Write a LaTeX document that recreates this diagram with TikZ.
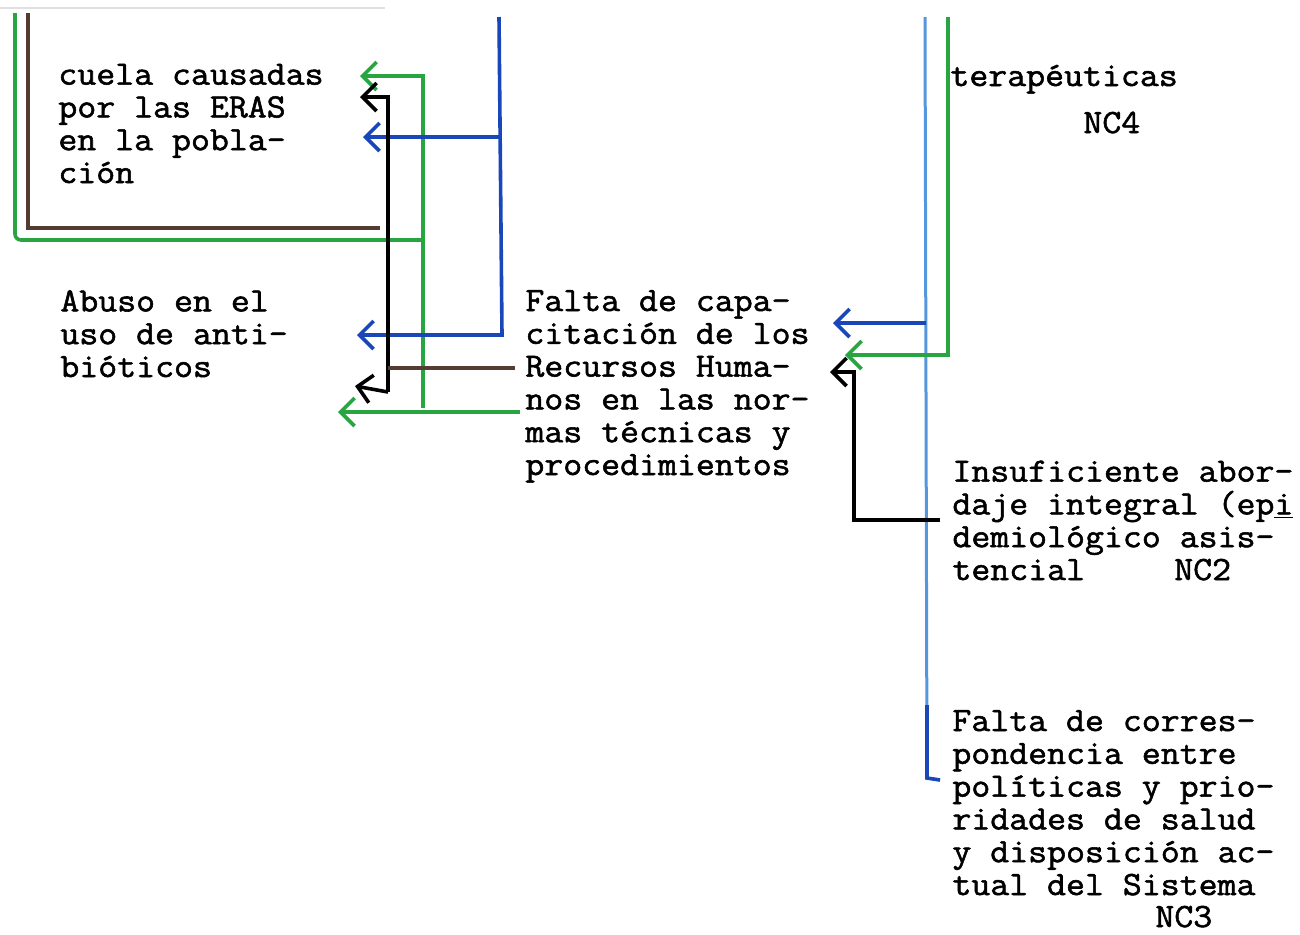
\documentclass[tikz,border=0pt]{standalone}
\usepackage{fontspec}
\newfontfamily\tw{Latin Modern Mono}[FakeBold=1.6, FakeStretch=1.082]
\usetikzlibrary{arrows.meta}
\definecolor{cgreen}{RGB}{40,165,65}
\definecolor{cblue}{RGB}{25,70,185}
\definecolor{clblue}{RGB}{85,150,220}
\definecolor{cbrown}{RGB}{85,60,50}
\tikzset{
  txt/.style={font=\fontsize{17}{16.4}\selectfont\tw, anchor=base west, align=left, inner sep=0pt},
  gline/.style={draw=cgreen, line width=1.8pt},
  bline/.style={draw=cblue, line width=1.8pt},
  lline/.style={draw=clblue, line width=1.5pt},
  kline/.style={draw=black, line width=1.8pt},
  rline/.style={draw=cbrown, line width=1.8pt},
  tohead/.style={-{Straight Barb[length=7pt,width=14pt]}}
}
\begin{document}
\begin{tikzpicture}[x=0.5pt,y=-0.5pt]
\useasboundingbox (0,0) rectangle (1300,934);
% texts (anchored at the baseline of their last line)
\node[txt] (cuela) at (58,183) {cuela causadas\\por las ERAS\\en la pobla-\\ción};
\node[txt] (abuso) at (60,377) {Abuso en el\\uso de anti-\\bióticos};
\node[txt] (falta) at (525,475) {Falta de capa-\\citación de los\\Recursos Huma-\\nos en las nor-\\mas técnicas y\\procedimientos};
\node[txt] (tera) at (950,86) {terapéuticas};
\node[txt] (nc4) at (1083,133) {NC4};
\node[txt] (insu) at (952,580) {Insuficiente abor-\\daje integral (ep\underline{i}\\demiológico asis-\\tencial\hspace{2.625em}NC2};
\node[txt] (corr) at (952,895) {Falta de corres-\\pondencia entre\\políticas y prio-\\ridades de salud\\y disposición ac-\\tual del Sistema};
\node[txt] (nc3) at (1155,927) {NC3};
% coordinates
\coordinate (gA) at (15,13);
\coordinate (gB) at (15,240);
\coordinate (gC) at (423,240);
\coordinate (gD) at (423,408);
\coordinate (gE) at (423,76);
\coordinate (gEt) at (360,76);
\coordinate (gF) at (520,412);
\coordinate (gFt) at (338,412);
\coordinate (rA) at (28,13);
\coordinate (rB) at (28,228);
\coordinate (rC) at (380,228);
\coordinate (bA) at (499,17);
\coordinate (bB) at (502,335);
\coordinate (bBt) at (357,335);
\coordinate (bC) at (500,137);
\coordinate (bCt) at (363,137);
\coordinate (kA) at (388,97);
\coordinate (kAt) at (360,97);
\coordinate (kB) at (388,392);
\coordinate (kBt) at (355,386);
\coordinate (kC) at (515,368);
\coordinate (kD) at (388,368);
\coordinate (lA) at (925,17);
\coordinate (lB) at (927,778);
\coordinate (lC) at (940,780);
\coordinate (lD) at (927,705);
\coordinate (lE) at (926,323);
\coordinate (lEt) at (833,323);
\coordinate (gG) at (948,17);
\coordinate (gH) at (948,355);
\coordinate (gHt) at (845,355);
\coordinate (kE) at (940,520);
\coordinate (kF) at (854,520);
\coordinate (kG) at (854,372);
\coordinate (kGt) at (830,372);
% faint scan edge
\draw[black!12, line width=1.2pt] (0,8) -- (385,8);
% left group
\draw[gline, rounded corners=3pt] (gA) -- (gB) -- (gC);
\draw[rline] (rA) -- (rB) -- (rC);
\draw[gline, tohead] (gD) -- (gE) -- (gEt);
\draw[gline, tohead] (gF) -- (gFt);
\draw[bline, tohead] (bA) -- (bB) -- (bBt);
\draw[bline, tohead] (bC) -- (bCt);
\draw[kline, tohead] (kB) -- (kA) -- (kAt);
\draw[kline, tohead] (kB) -- (kBt);
\draw[rline] (kC) -- (kD);
% right group
\draw[lline] (lA) -- (lB) -- (lC);
\draw[bline] (lD) -- (lB) -- (lC);
\draw[bline, tohead] (lE) -- (lEt);
\draw[gline, tohead] (gG) -- (gH) -- (gHt);
\draw[kline, tohead] (kE) -- (kF) -- (kG) -- (kGt);
\end{tikzpicture}
\end{document}
